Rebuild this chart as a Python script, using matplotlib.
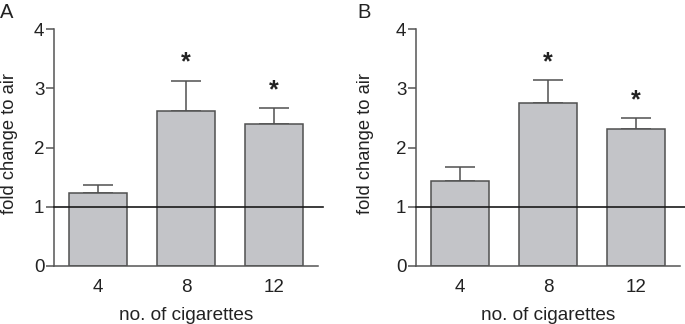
import matplotlib
matplotlib.use("Agg")
import matplotlib.pyplot as plt
import numpy as np

plt.rcParams['font.family'] = ['Liberation Sans', 'DejaVu Sans']

categories = ["4", "8", "12"]
values_a = [1.24, 2.61, 2.40]
errors_a = [0.12, 0.52, 0.27]
values_b = [1.43, 2.75, 2.31]
errors_b = [0.24, 0.39, 0.18]
significant = [False, True, True]
panel_labels = ["A", "B"]
yticks = [0, 1, 2, 3, 4]

W, H = 685, 324
fig = plt.figure(figsize=(W / 100, H / 100), dpi=100)

fill = "#c3c4c8"
edge = "#505050"
spine_c = "#555555"

def px_axes(x0, x1, ytop, ybot):
    return [x0 / W, (H - ybot) / H, (x1 - x0) / W, (ybot - ytop) / H]

panels = [
    (values_a, errors_a, px_axes(54, 318, 29, 266), 2.56, 18, 54, "A", 0),
    (values_b, errors_b, px_axes(416, 680, 29, 266), 2.62, 374, 416, "B", 357),
]

for vals, errs, rect, line_end, ylab_px, ax_px, letter, lx in panels:
    ax = fig.add_axes(rect)
    x = np.arange(len(categories))
    ax.bar(x, vals, width=0.667, color=fill, edgecolor=edge, linewidth=1.1, zorder=2)
    ax.errorbar(x, vals, yerr=[np.zeros(len(errs)), errs], fmt='none',
                ecolor=edge, elinewidth=1.1, capsize=10.5, capthick=1.1, zorder=1)
    for xi, v, e, s in zip(x, vals, errs, significant):
        if s:
            ax.text(xi, v + e + 0.3, "*", ha='center', va='center',
                    fontsize=18, fontweight='bold', color="#222222")
    ax.plot([-0.5, line_end], [1, 1], color="#1a1a1a", linewidth=1.2,
            clip_on=False, zorder=3)
    ax.set_xlim(-0.5, 2.5)
    ax.set_ylim(0, 4)
    ax.set_yticks(yticks)
    ax.set_xticks(x)
    ax.set_xticklabels(categories)
    for sp in ["top", "right"]:
        ax.spines[sp].set_visible(False)
    for sp in ["left", "bottom"]:
        ax.spines[sp].set_color(spine_c)
        ax.spines[sp].set_linewidth(1.1)
    ax.tick_params(axis='y', direction='out', length=6, width=1.1, color=spine_c,
                   labelsize=13.5, pad=1, labelcolor="#222222")
    ax.tick_params(axis='x', length=0, labelsize=13.5, pad=9, labelcolor="#222222")
    ax.set_xlabel("no. of cigarettes", fontsize=13.7, color="#222222", labelpad=8)
    ax.set_ylabel("fold change to air", fontsize=13.2, color="#222222")
    ax.yaxis.set_label_coords((ylab_px - ax_px) / 264, 0.515)
    fig.text(lx / W, 1 - 3 / H, letter, fontsize=14.5, va='top', ha='left', color="#222222")

fig.savefig("out.png", dpi=100)
